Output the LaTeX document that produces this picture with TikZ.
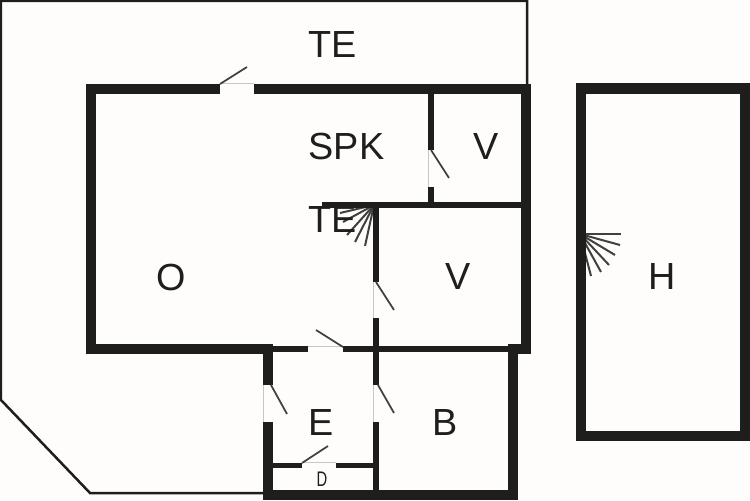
\documentclass[tikz,border=0pt]{standalone}
\usepackage{fontspec}
\setmainfont{Liberation Sans}
\definecolor{wallblack}{HTML}{1E1E1C}
\definecolor{paperwhite}{HTML}{FEFDFC}
\tikzset{
	wall/.style={fill=wallblack, draw=none},
	outline/.style={line width=0.05cm, color=wallblack},
	leaf/.style={line width=0.035cm, color=wallblack!85},
	sill/.style={line width=0.015cm, color=black!22},
	fan/.style={line width=0.04cm, color=wallblack!85},
	roomlabel/.style={font=\fontsize{21.5}{22}\selectfont, color=wallblack, inner sep=0pt},
}
\begin{document}
\begin{tikzpicture}[x=0.02cm, y=-0.02cm]
	\useasboundingbox (0, 0) rectangle (750, 500);
	\fill[paperwhite] (0, 0) rectangle (750, 500);

	% terrace outline
	\draw[outline] (527, 85) -- (527, 1) -- (1, 1) -- (1, 400) -- (90, 493) -- (265, 493);

	% stairs
	\foreach \endx/\endy in {340/213, 343/222, 347/235, 355/242, 365/246}
		\draw[fan] (374, 205) -- (\endx, \endy);
	\foreach \endx/\endy in {621/234, 620/245, 615/255, 609/265, 601/272, 591/276}
		\draw[fan] (580, 234) -- (\endx, \endy);

	% main house, outer walls
	\fill[wall] (86, 84) rectangle (220, 94);
	\fill[wall] (254, 84) rectangle (531, 94);
	\fill[wall] (86, 84) rectangle (96, 354);
	\fill[wall] (521, 84) rectangle (531, 354);
	\fill[wall] (86, 344) rectangle (273, 354);

	% inner walls
	\fill[wall] (428, 94) rectangle (434, 150);
	\fill[wall] (428, 187) rectangle (434, 207);
	\fill[wall] (322, 202) rectangle (521, 208);
	\fill[wall] (373, 202) rectangle (379, 282);
	\fill[wall] (373, 318) rectangle (379, 385);
	\fill[wall] (373, 422) rectangle (379, 495);
	\fill[wall] (273, 346) rectangle (308, 352);
	\fill[wall] (343, 346) rectangle (521, 352);

	% lower rooms
	\fill[wall] (263, 344) rectangle (273, 385);
	\fill[wall] (263, 422) rectangle (273, 500);
	\fill[wall] (508, 344) rectangle (531, 354);
	\fill[wall] (508, 344) rectangle (518, 500);
	\fill[wall] (263, 490) rectangle (518, 500);
	\fill[wall] (272, 463) rectangle (302, 468);
	\fill[wall] (336, 463) rectangle (376, 468);

	% outhouse
	\fill[wall] (576, 83) rectangle (750, 94);
	\fill[wall] (576, 83) rectangle (586, 441);
	\fill[wall] (740, 83) rectangle (750, 441);
	\fill[wall] (576, 431) rectangle (750, 441);

	% door sills
	\draw[sill] (220, 83) -- (254, 83);
	\draw[sill] (428, 150) -- (428, 187);
	\draw[sill] (373, 282) -- (373, 318);
	\draw[sill] (308, 346) -- (343, 346);
	\draw[sill] (263, 385) -- (263, 422);
	\draw[sill] (373, 385) -- (373, 422);
	\draw[sill] (302, 462) -- (336, 462);

	% door leaves
	\draw[leaf] (220, 84) -- (247, 67);
	\draw[leaf] (431, 150) -- (449, 178);
	\draw[leaf] (376, 282) -- (394, 310);
	\draw[leaf] (343, 347) -- (316, 330);
	\draw[leaf] (271, 385) -- (287, 414);
	\draw[leaf] (378, 385) -- (394, 413);
	\draw[leaf] (302, 463) -- (328, 446);

	% room names
	\node[roomlabel] (terrace) at (332.5, 45) {TE};
	\node[roomlabel] (hall) at (346.5, 146) {SPK};
	\node[roomlabel] (closet) at (486, 147) {V};
	\node[roomlabel] (stairs) at (332.5, 220) {TE};
	\node[roomlabel] (living) at (171, 277) {O};
	\node[roomlabel] (store) at (458, 277) {V};
	\node[roomlabel] (outhouse) at (662, 277) {H};
	\node[roomlabel] (entry) at (321, 423) {E};
	\node[roomlabel] (bath) at (445, 423) {B};
	\node[roomlabel, font=\fontsize{12}{12}\selectfont] (door) at (322, 479.5) {\scalebox{0.7}[1]{D}};
\end{tikzpicture}
\end{document}
